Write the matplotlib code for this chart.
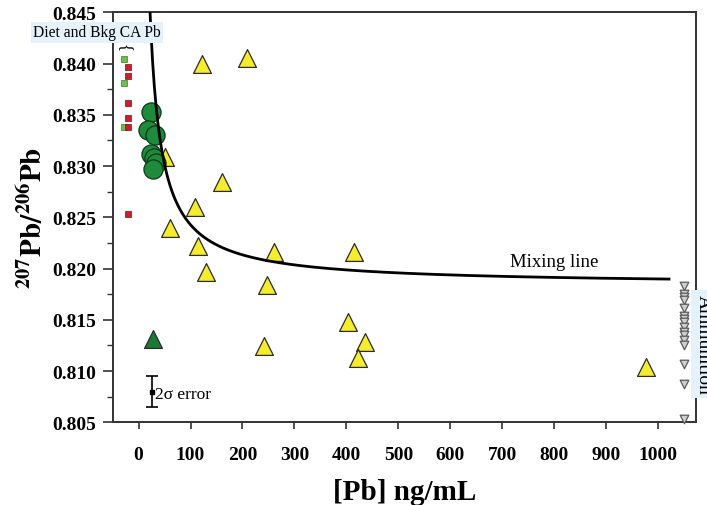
import matplotlib
matplotlib.use("Agg")
import matplotlib.pyplot as plt
import numpy as np

plt.rcParams['font.family'] = ['Liberation Serif', 'DejaVu Serif']
plt.rcParams['mathtext.fontset'] = 'stix'

# ---- data ----
diet_green_x = [-29, -29, -29]
diet_green_y = [0.8404, 0.8381, 0.8338]
bkg_red_x = [-20, -20, -20, -20, -20, -20]
bkg_red_y = [0.8397, 0.8388, 0.8362, 0.8347, 0.8338, 0.8253]

circle_x = [23, 19, 32, 23, 30, 34, 28]
circle_y = [0.8353, 0.8335, 0.8330, 0.8312, 0.8308, 0.8303, 0.8297]

green_tri_x = [28]
green_tri_y = [0.8131]

yellow_x = [50, 122, 208, 161, 109, 61, 114, 130, 261, 247, 414, 403, 436, 423, 242, 977]
yellow_y = [0.8309, 0.8400, 0.8405, 0.8284, 0.8260, 0.8240, 0.8222, 0.8197,
            0.8216, 0.8184, 0.8216, 0.8148, 0.8128, 0.8113, 0.8124, 0.8104]

ammo_y = [0.8183, 0.8175, 0.8172, 0.8169, 0.8162, 0.8154, 0.8151, 0.8148,
          0.8143, 0.8138, 0.8135, 0.8130, 0.8125, 0.8107, 0.8087, 0.8053]
ammo_x = [1050] * len(ammo_y)

err_x = [25]
err_y = [0.8080]
err_size = [0.00155]

# mixing line parameters  y = A + B / x
mix_A = 0.8184
mix_B = 0.5875
mix_x_start, mix_x_end = 22, 1021

xticks = [0, 100, 200, 300, 400, 500, 600, 700, 800, 900, 1000]
yticks = [0.805, 0.810, 0.815, 0.820, 0.825, 0.830, 0.835, 0.840, 0.845]

# ---- figure ----
fig = plt.figure(figsize=(7.07, 5.06), dpi=100)
ax = fig.add_axes([0.160, 0.1634, 0.8245, 0.8103])

ax.set_xlim(-49, 1073)
ax.set_ylim(0.805, 0.845)

edge = '#2b2b2b'
ax.scatter(yellow_x, yellow_y, marker='^', s=165, facecolor='#f4ec2c',
           edgecolor=edge, linewidth=0.9, zorder=3)
ax.scatter(green_tri_x, green_tri_y, marker='^', s=165, facecolor='#1c7a35',
           edgecolor=edge, linewidth=0.9, zorder=3)
ax.scatter(circle_x, circle_y, marker='o', s=190, facecolor='#1d8a3c',
           edgecolor='#0c3a18', linewidth=0.9, zorder=4)
ax.scatter(diet_green_x, diet_green_y, marker='s', s=22, facecolor='#6cc04a',
           edgecolor='#3d7a2a', linewidth=0.5, zorder=4)
ax.scatter(bkg_red_x, bkg_red_y, marker='s', s=22, facecolor='#cc1f2d',
           edgecolor='#7a1018', linewidth=0.5, zorder=4)
ax.scatter(ammo_x, ammo_y, marker='v', s=38, facecolor='#cfcfcf',
           edgecolor='#5a5a5a', linewidth=0.9, zorder=4, clip_on=False)

xm = np.linspace(mix_x_start, mix_x_end, 600)
ax.plot(xm, mix_A + mix_B / xm, color='black', lw=2.0, zorder=5)

ax.errorbar(err_x, err_y, yerr=err_size, fmt='s', color='black', ms=3,
            capsize=4, elinewidth=1.2, capthick=1.2, zorder=5)
ax.text(31, 0.8078, '2σ error', fontsize=12.5, va='center', ha='left')

ax.text(800, 0.8207, 'Mixing line', fontsize=13.5, va='center', ha='center')

# labels with light-blue boxes
fig.text(97 / 707, 1 - 33.5 / 506, 'Diet and Bkg CA Pb', fontsize=11.2,
         ha='center', va='center', zorder=10,
         bbox=dict(boxstyle='square,pad=0.15', facecolor='#e5f2fb', edgecolor='none'))
ax.text(-25, 0.8418, '}', rotation=90, fontsize=12, ha='center', va='center')
fig.text(703 / 707, 1 - 345 / 506, 'Ammunition', fontsize=14, rotation=-90,
         ha='center', va='center', zorder=10,
         bbox=dict(boxstyle='square,pad=0.2', facecolor='#e5f2fb', edgecolor='none'))

# axes styling
for sp in ax.spines.values():
    sp.set_color('#333333')
    sp.set_linewidth(1.4)
ax.set_xticks(xticks)
ax.set_yticks(yticks)
ax.set_yticks(np.arange(0.8075, 0.845, 0.005), minor=True)
ax.set_xticklabels([str(v) for v in xticks], fontsize=14, fontweight='bold')
ax.set_yticklabels([f'{v:.3f}' for v in yticks], fontsize=14, fontweight='bold')
ax.tick_params(axis='x', which='major', direction='out', length=5, width=1.2,
               pad=12, colors='#333333', labelcolor='black')
ax.tick_params(axis='y', which='major', direction='out', length=7, width=1.2,
               pad=5, colors='#333333', labelcolor='black')
ax.tick_params(axis='y', which='minor', direction='out', length=4, width=1.0,
               colors='#333333')

ax.set_xlabel('[Pb] ng/mL', fontsize=21, fontweight='bold', labelpad=11)
ax.set_ylabel(r'$\mathbf{^{207}Pb/^{206}Pb}$', fontsize=21, labelpad=3)

fig.savefig('out.png', dpi=100)
